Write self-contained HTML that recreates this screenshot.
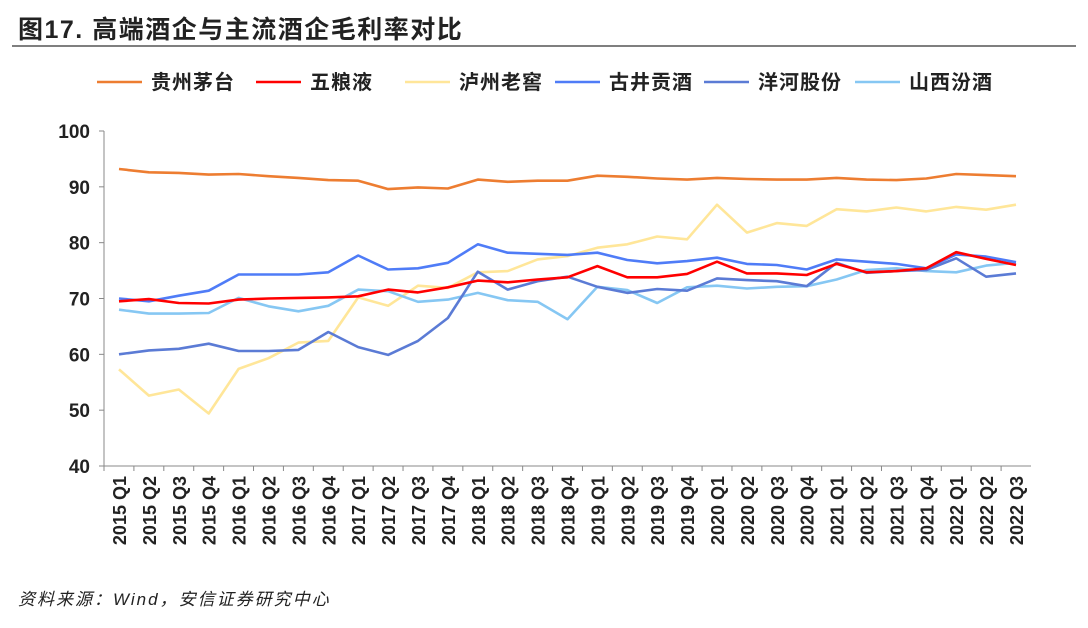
<!DOCTYPE html>
<html><head><meta charset="utf-8"><style>
body{margin:0;background:#fff;width:1088px;height:623px;overflow:hidden;font-family:"Liberation Sans","Noto Sans CJK SC",sans-serif}
</style></head><body>
<svg width="1088" height="623">
<text x="18" y="38" font-size="25" font-weight="bold" fill="#222" letter-spacing="1.5" font-family="Liberation Sans, Noto Sans CJK SC, sans-serif">图17. 高端酒企与主流酒企毛利率对比</text>
<line x1="12" y1="46" x2="1076" y2="46" stroke="#333" stroke-width="1.2"/>
<g id="legend"></g>
<g id="axes"></g>
<g id="series"></g>
<text x="18" y="605" font-size="17" font-style="italic" fill="#222" letter-spacing="2" font-family="Liberation Sans, Noto Sans CJK SC, sans-serif">资料来源：Wind，安信证券研究中心</text>
</svg>
<script>
const categories=[];for(let y=2015;y<=2022;y++)for(let q=1;q<=4;q++){if(y===2022&&q===4)break;categories.push(y+" Q"+q);}
const yTicks=[40,50,60,70,80,90,100];
const seriesNames=["贵州茅台","五粮液","泸州老窖","古井贡酒","洋河股份","山西汾酒"];
const seriesColors=["#ED7D31","#FF0000","#FFE699","#4F7CF7","#5B7BD5","#86C7F3"];
const moutai=[93.2,92.6,92.5,92.2,92.3,91.9,91.6,91.2,91.1,89.6,89.9,89.7,91.3,90.9,91.1,91.1,92.0,91.8,91.5,91.3,91.6,91.4,91.3,91.3,91.6,91.3,91.2,91.5,92.3,92.1,91.9];
const wuliangye=[69.5,69.9,69.2,69.1,69.8,70.0,70.1,70.2,70.4,71.6,71.1,72.0,73.2,72.9,73.4,73.8,75.8,73.8,73.8,74.4,76.6,74.5,74.5,74.2,76.2,74.7,74.9,75.4,78.3,77.1,76.0];
const luzhou=[57.3,52.6,53.7,49.4,57.4,59.3,62.1,62.4,70.2,68.7,72.3,71.9,74.7,74.9,77.0,77.6,79.1,79.7,81.1,80.6,86.8,81.8,83.5,83.0,86.0,85.6,86.3,85.6,86.4,85.9,86.8];
const gujing=[70.0,69.5,70.5,71.4,74.3,74.3,74.3,74.7,77.7,75.2,75.4,76.4,79.7,78.2,78.0,77.8,78.2,76.9,76.3,76.7,77.3,76.2,76.0,75.2,77.0,76.6,76.2,75.4,77.9,77.5,76.5];
const yanghe=[60.0,60.7,61.0,61.9,60.6,60.6,60.8,64.0,61.3,59.9,62.4,66.5,74.8,71.6,73.1,73.9,72.1,71.0,71.7,71.4,73.6,73.3,73.1,72.2,76.4,74.6,74.9,75.1,77.2,73.9,74.5];
const fenjiu=[68.0,67.3,67.3,67.4,70.1,68.6,67.7,68.7,71.6,71.3,69.4,69.8,71.0,69.7,69.4,66.3,72.1,71.5,69.2,72.0,72.3,71.8,72.1,72.2,73.4,75.1,75.4,74.9,74.7,75.9,76.4];
const allSeries=[moutai,wuliangye,luzhou,gujing,yanghe,fenjiu];
const NS="http://www.w3.org/2000/svg";
const L=104,R=1031,T=131,B=466;
const step=(R-L)/categories.length;
const xPos=i=>L+step*(i+0.5);
const yPos=v=>B-(v-40)/60*(B-T);
function mk(tag,attrs,parent){const e=document.createElementNS(NS,tag);for(const k in attrs)e.setAttribute(k,attrs[k]);parent.appendChild(e);return e;}
const axes=document.getElementById('axes');
let a=mk('line',{x1:L,y1:T,x2:L,y2:B,stroke:'#888','stroke-width':1},axes);


a=mk('line',{x1:L,y1:B,x2:R,y2:B,stroke:'#888','stroke-width':1},axes);


yTicks.forEach(v=>{
 const tk=mk('line',{x1:L-5,y1:yPos(v),x2:L,y2:yPos(v),stroke:'#888'},axes);
 
 
 const t=mk('text',{x:L-14,y:yPos(v)+7,'text-anchor':'end','font-size':19,'font-weight':'bold',fill:'#222'},axes);
 t.textContent=v;
 
 
});
categories.forEach((c,i)=>{
 const tk=mk('line',{x1:L+step*i,y1:B,x2:L+step*i,y2:B+5,stroke:'#888'},axes);
 
 
 const x=xPos(i)+7;
 const t=mk('text',{x:x,y:476,'text-anchor':'end','font-size':18,'font-weight':'bold',fill:'#222',transform:`rotate(-90 ${x} 476)`},axes);
 t.textContent=c;
 
 
});
const sg=document.getElementById('series');
const order=[2,5,4,3,1,0];
order.forEach(k=>{
 const d=allSeries[k].map((v,i)=>(i?'L':'M')+xPos(i).toFixed(1)+','+yPos(v).toFixed(1)).join(' ');
 const p=mk('path',{d:d,fill:'none',stroke:seriesColors[k],'stroke-width':2.6,'stroke-linejoin':'round'},sg);
 
 
});
const lg=document.getElementById('legend');
const lx=[97,256,405,555,704,855];
seriesNames.forEach((n,k)=>{
 const g=mk('g',{},lg);
 
 
 mk('line',{x1:lx[k],y1:82,x2:lx[k]+45,y2:82,stroke:seriesColors[k],'stroke-width':2.6},g);
 const t=mk('text',{x:lx[k]+54,y:89,'font-size':20,'font-weight':'bold',fill:'#222','letter-spacing':1},g);
 t.textContent=n;
});
</script>
</body></html>
